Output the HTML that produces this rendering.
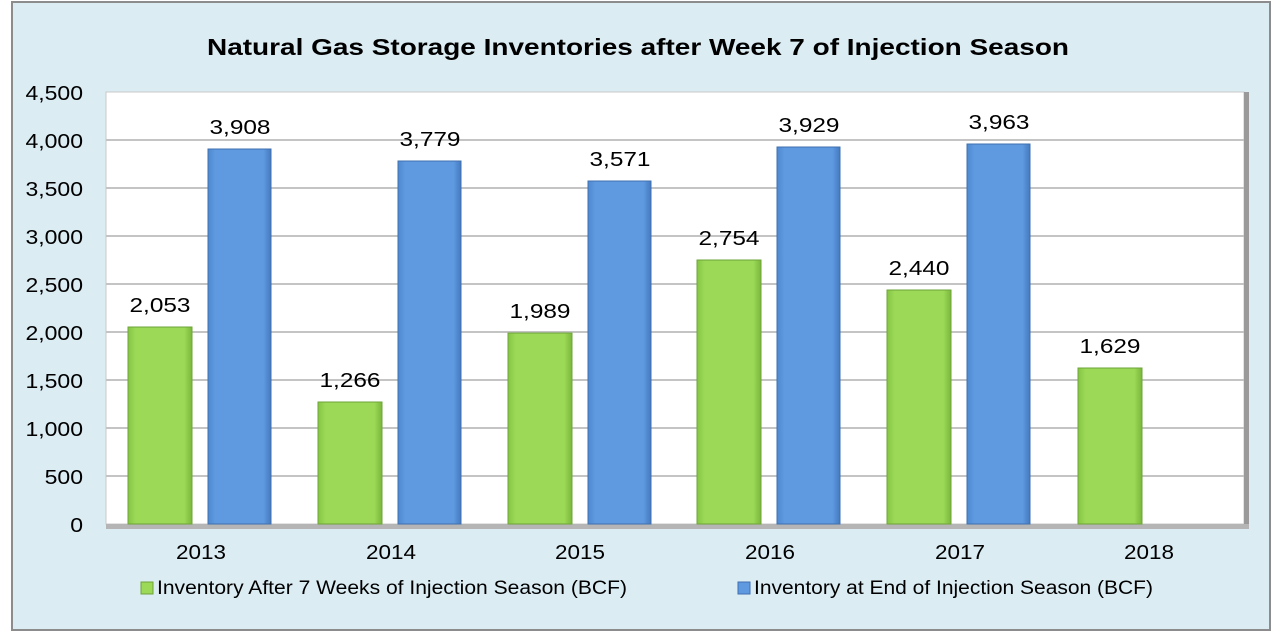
<!DOCTYPE html>
<html><head><style>
html,body{margin:0;padding:0;background:#fff;}
svg{display:block;font-family:"Liberation Sans",Arial,sans-serif;}
</style></head><body>
<svg width="1284" height="641" viewBox="0 0 1284 641">
<defs>
<linearGradient id="g" x1="0" x2="1" y1="0" y2="0">
<stop offset="0" stop-color="#86c544"/><stop offset="0.12" stop-color="#9bd957"/><stop offset="0.88" stop-color="#9bd957"/><stop offset="1" stop-color="#7ab63c"/>
</linearGradient>
<linearGradient id="b" x1="0" x2="1" y1="0" y2="0">
<stop offset="0" stop-color="#4f88cf"/><stop offset="0.12" stop-color="#5f9ae0"/><stop offset="0.88" stop-color="#5f9ae0"/><stop offset="1" stop-color="#4479bf"/>
</linearGradient>
</defs>
<rect x="12" y="2" width="1258" height="628" fill="#dbecf3" stroke="#8c8c8c" stroke-width="2"/>
<text x="638" y="55" text-anchor="middle" font-size="23" font-weight="bold" textLength="862" lengthAdjust="spacingAndGlyphs">Natural Gas Storage Inventories after Week 7 of Injection Season</text>
<rect x="106" y="92" width="1138" height="432" fill="#fff" stroke="#c8c8c8"/>
<rect x="1244" y="92" width="5" height="437" fill="#9a9a9a"/>
<rect x="106" y="524" width="1143" height="5" fill="#b5b5b5"/>
<g stroke="#c4c4c4" stroke-width="2">
<line x1="106" x2="1244" y1="140" y2="140"/><line x1="106" x2="1244" y1="188" y2="188"/><line x1="106" x2="1244" y1="236" y2="236"/><line x1="106" x2="1244" y1="284" y2="284"/><line x1="106" x2="1244" y1="332" y2="332"/><line x1="106" x2="1244" y1="380" y2="380"/><line x1="106" x2="1244" y1="428" y2="428"/><line x1="106" x2="1244" y1="476" y2="476"/>
</g>
<g font-size="20" text-anchor="end" transform="translate(83,0) scale(1.15,1)">
<text x="0" y="100">4,500</text><text x="0" y="148">4,000</text><text x="0" y="196">3,500</text><text x="0" y="244">3,000</text><text x="0" y="292">2,500</text><text x="0" y="340">2,000</text><text x="0" y="388">1,500</text><text x="0" y="436">1,000</text><text x="0" y="484">500</text><text x="0" y="532">0</text>
</g>
<g stroke-width="1">
<rect x="128" y="327" width="64" height="197" fill="url(#g)" stroke="#6ea438"/>
<rect x="208" y="149" width="63" height="375" fill="url(#b)" stroke="#3f70b0"/>
<rect x="318" y="402" width="64" height="122" fill="url(#g)" stroke="#6ea438"/>
<rect x="398" y="161" width="63" height="363" fill="url(#b)" stroke="#3f70b0"/>
<rect x="508" y="333" width="64" height="191" fill="url(#g)" stroke="#6ea438"/>
<rect x="588" y="181" width="63" height="343" fill="url(#b)" stroke="#3f70b0"/>
<rect x="697" y="260" width="64" height="264" fill="url(#g)" stroke="#6ea438"/>
<rect x="777" y="147" width="63" height="377" fill="url(#b)" stroke="#3f70b0"/>
<rect x="887" y="290" width="64" height="234" fill="url(#g)" stroke="#6ea438"/>
<rect x="967" y="144" width="63" height="380" fill="url(#b)" stroke="#3f70b0"/>
<rect x="1078" y="368" width="64" height="156" fill="url(#g)" stroke="#6ea438"/>
</g>
<g font-size="20" text-anchor="middle" lengthAdjust="spacingAndGlyphs">
<text x="160" y="312" textLength="61" lengthAdjust="spacingAndGlyphs">2,053</text><text x="240" y="134" textLength="61" lengthAdjust="spacingAndGlyphs">3,908</text>
<text x="350" y="387" textLength="61" lengthAdjust="spacingAndGlyphs">1,266</text><text x="430" y="146" textLength="61" lengthAdjust="spacingAndGlyphs">3,779</text>
<text x="540" y="318" textLength="61" lengthAdjust="spacingAndGlyphs">1,989</text><text x="620" y="166" textLength="61" lengthAdjust="spacingAndGlyphs">3,571</text>
<text x="729" y="245" textLength="61" lengthAdjust="spacingAndGlyphs">2,754</text><text x="809" y="132" textLength="61" lengthAdjust="spacingAndGlyphs">3,929</text>
<text x="919" y="275" textLength="61" lengthAdjust="spacingAndGlyphs">2,440</text><text x="999" y="129" textLength="61" lengthAdjust="spacingAndGlyphs">3,963</text>
<text x="1110" y="353" textLength="61" lengthAdjust="spacingAndGlyphs">1,629</text>
<text x="201" y="559" textLength="50" lengthAdjust="spacingAndGlyphs">2013</text><text x="391" y="559" textLength="50" lengthAdjust="spacingAndGlyphs">2014</text><text x="580" y="559" textLength="50" lengthAdjust="spacingAndGlyphs">2015</text><text x="770" y="559" textLength="50" lengthAdjust="spacingAndGlyphs">2016</text><text x="960" y="559" textLength="50" lengthAdjust="spacingAndGlyphs">2017</text><text x="1149" y="559" textLength="50" lengthAdjust="spacingAndGlyphs">2018</text>
</g>
<rect x="141" y="582" width="12" height="12" fill="#9bd957" stroke="#6ea438"/>
<text x="157" y="594" font-size="19" textLength="470" lengthAdjust="spacingAndGlyphs">Inventory After 7 Weeks of Injection Season (BCF)</text>
<rect x="738" y="582" width="12" height="12" fill="#5f9ae0" stroke="#3f70b0"/>
<text x="754" y="594" font-size="19" textLength="399" lengthAdjust="spacingAndGlyphs">Inventory at End of Injection Season (BCF)</text>
</svg>
</body></html>
